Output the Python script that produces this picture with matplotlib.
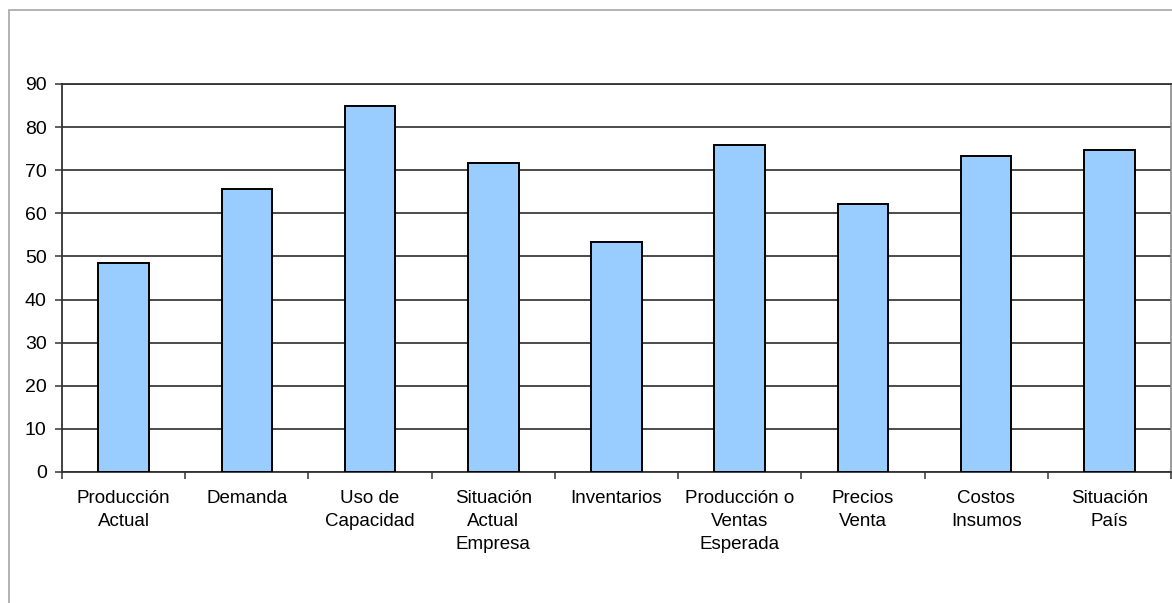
import numpy as np
import matplotlib
matplotlib.use('Agg')
import matplotlib.pyplot as plt
from matplotlib.patches import Rectangle

# data
categorias = ['Producción\nActual', 'Demanda', 'Uso de\nCapacidad', 'Situación\nActual\nEmpresa',
              'Inventarios', 'Producción o\nVentas\nEsperada', 'Precios\nVenta', 'Costos\nInsumos',
              'Situación\nPaís']
valores = [48.4, 65.6, 84.9, 71.7, 53.3, 75.8, 62.2, 73.3, 74.8]
yticks = [0, 10, 20, 30, 40, 50, 60, 70, 80, 90]

plt.rcParams['font.family'] = ['Liberation Sans', 'DejaVu Sans']

W, H = 1172, 603
fig = plt.figure(figsize=(W / 100, H / 100), dpi=100)
# outer chart frame (light gray)
fig.patches.append(Rectangle((9 / W, -0.1), 1.2, 1 - 10 / H + 0.1, transform=fig.transFigure,
                             fill=False, edgecolor='#a6a6a6', lw=1.2))

ax = fig.add_axes([62 / W, (H - 472) / H, (1171 - 62) / W, 388 / H])
x = np.arange(len(categorias))
ax.bar(x, valores, width=0.41, color='#99ccff', edgecolor='black', linewidth=1.4, zorder=3)

ax.set_xlim(-0.5, len(categorias) - 0.5)
ax.set_ylim(0, 90)
ax.set_yticks(yticks)
ax.yaxis.grid(True, color='#1a1a1a', linewidth=1.1, zorder=0)
ax.set_axisbelow(True)

# x ticks at the category borders, labels centered
ax.set_xticks(np.arange(-0.5, len(categorias), 1.0))
ax.set_xticklabels([])
ax.set_xticks(x, minor=True)
ax.set_xticklabels(categorias, minor=True, fontsize=13.5, linespacing=1.45, va='top')
ax.tick_params(axis='x', which='minor', length=0, pad=13)
ax.tick_params(axis='x', which='major', length=5, width=1.1, color='#333333')
ax.tick_params(axis='y', length=5, width=1.1, pad=6, labelsize=14, color='#333333')

ax.spines['left'].set_color('#333333')
ax.spines['left'].set_linewidth(1.3)
ax.spines['bottom'].set_color('#333333')
ax.spines['bottom'].set_linewidth(1.3)
ax.spines['top'].set_color('#333333')
ax.spines['top'].set_linewidth(1.3)
ax.spines['right'].set_color('#808080')
ax.spines['right'].set_linewidth(1.1)

fig.savefig('out.png', dpi=100)
